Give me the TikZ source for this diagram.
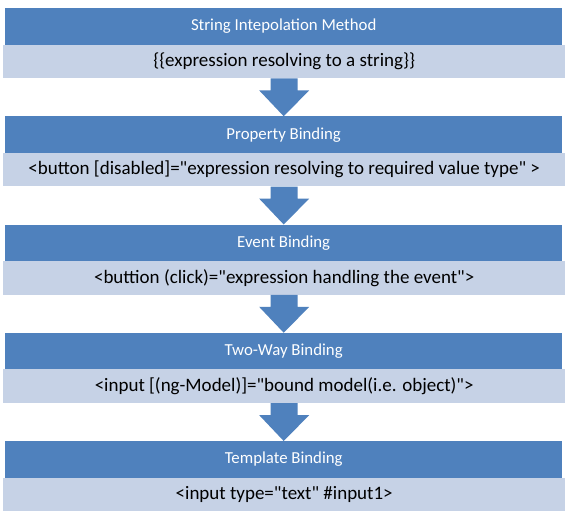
\documentclass[tikz,border=0pt]{standalone}
\usepackage{fontspec}
\setmainfont{Carlito}[Ligatures=TeXOff]
\usetikzlibrary{calc}
\definecolor{hdblue}{HTML}{4F81BD}
\definecolor{bdblue}{HTML}{C6D2E6}
\tikzset{
  hdbox/.style={rectangle, fill=hdblue, draw=none, anchor=north west, inner sep=0pt,
    minimum width=557pt, minimum height=36.5pt, text=white, font=\fontsize{16.8}{18}\selectfont},
  bdbox/.style={rectangle, fill=bdblue, draw=none, anchor=north west, inner sep=0pt,
    minimum width=562pt, minimum height=33.5pt, text=black, font=\fontsize{19}{21}\selectfont},
  flowarrow/.style={fill=hdblue, draw=none}
}
\newcommand{\downarrowshape}[2]{%
  \fill[flowarrow] ($(#1.south)+(-13.5pt,0)$) -- ($(#1.south)+(13.5pt,0)$)
    -- ($(#1.south)+(13.5pt,-12pt)$) -- ($(#1.south)+(25pt,-12pt)$)
    -- (#2.north) -- ($(#1.south)+(-25pt,-12pt)$)
    -- ($(#1.south)+(-13.5pt,-12pt)$) -- cycle;}
\begin{document}
\begin{tikzpicture}[x=1pt,y=-1pt]
\useasboundingbox (0,0) rectangle (565,518);
\fill[white] (0,0) rectangle (565,518);
\node[hdbox] (h1) at (5,8) {String Intepolation Method};
\node[bdbox] (b1) at (3,44.5) {\{\{expression resolving to a string\}\}};
\node[hdbox] (h2) at (5,116.25) {Property Binding};
\node[bdbox] (b2) at (3,152.75) {<button [disabled]="expression resolving to required value type" >};
\node[hdbox] (h3) at (5,224.5) {Event Binding};
\node[bdbox] (b3) at (3,261) {<buttion (click)="expression handling the event">};
\node[hdbox] (h4) at (5,332.75) {Two-Way Binding};
\node[bdbox] (b4) at (3,369.25) {<input [(ng-Model)]="bound model(i.e. object)">};
\node[hdbox] (h5) at (5,441) {Template Binding};
\node[bdbox] (b5) at (3,477.5) {<input type="text" \#input1>};
\downarrowshape{b1}{h2}
\downarrowshape{b2}{h3}
\downarrowshape{b3}{h4}
\downarrowshape{b4}{h5}
\end{tikzpicture}
\end{document}
